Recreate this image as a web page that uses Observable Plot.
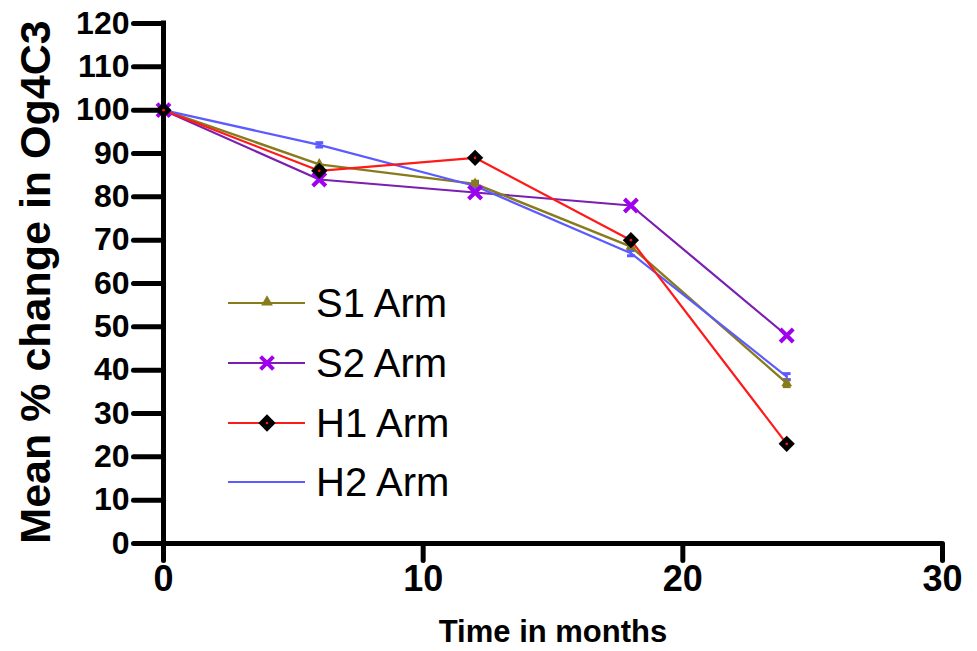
<!DOCTYPE html>
<html>
<head>
<meta charset="utf-8">
<script src="https://cdn.jsdelivr.net/npm/d3@7"></script>
<script src="https://cdn.jsdelivr.net/npm/@observablehq/plot@0.6"></script>
<style>
  html, body { margin: 0; padding: 0; background: white; }
  #chart { position: relative; width: 977px; height: 651px; }
  svg { font-family: "Liberation Sans", Arial, sans-serif; }
</style>
</head>
<body>
<div id="chart"></div>
<script>
// ---- data ----
const months = [0, 6, 12, 18, 24];
const seriesNames = ["S1 Arm", "S2 Arm", "H1 Arm", "H2 Arm"];
const s1Values = [100, 87.5, 83, 68.5, 37];
const s2Values = [100, 84, 81, 78, 48];
const h1Values = [100, 86, 89, 70, 23];
const h2Values = [100, 92, 82.5, 67, 38.5];
const s1Errors = [0, 0, 0.6, 0, 0.8];
const h2Errors = [0, 0.5, 0.6, 0.6, 0.7];
const xTicks = [0, 10, 20, 30];
const yTicks = [0, 10, 20, 30, 40, 50, 60, 70, 80, 90, 100, 110, 120];
const xLabel = "Time in months";
const yLabel = "Mean % change in Og4C3";

// ---- styles ----
const colors = {"S1 Arm": "#877b1c", "S2 Arm": "#7a1fb0", "H1 Arm": "#ff1a1a", "H2 Arm": "#5b5bff"};
const valuesBySeries = {"S1 Arm": s1Values, "S2 Arm": s2Values, "H1 Arm": h1Values, "H2 Arm": h2Values};
const rows = seriesNames.flatMap(s => months.map((m, i) => ({series: s, month: m, value: valuesBySeries[s][i]})));
const bySeries = s => rows.filter(d => d.series === s);
const errRows = (s, errs) => months.map((m, i) => ({month: m, value: valuesBySeries[s][i], err: errs[i]})).filter(d => d.err > 0);
const capW = 0.15;

// tick glyphs (thick axis ticks)
const yTickLen = 30, xTickLen = 17;
const leftTick = {draw(ctx) { ctx.moveTo(-yTickLen, 0); ctx.lineTo(0, 0); }};
const downTick = {draw(ctx) { ctx.moveTo(0, 0); ctx.lineTo(0, xTickLen); }};

const chart = Plot.plot({
  width: 977, height: 651,
  marginLeft: 163, marginRight: 35, marginTop: 23, marginBottom: 108,
  x: {domain: [0, 30]},
  y: {domain: [0, 120]},
  style: {background: "white", color: "black", fontFamily: "Liberation Sans, Arial, sans-serif"},
  marks: [
    Plot.axisY({ticks: yTicks, tickSize: 0, tickPadding: yTickLen + 4, fontSize: 32, fontWeight: "bold", label: null, tickFormat: d => String(d)}),
    Plot.axisX({ticks: xTicks, tickSize: 0, tickPadding: xTickLen + 5, fontSize: 36, fontWeight: "bold", label: null, tickFormat: d => String(d)}),
    Plot.dot(yTicks, {x: () => 0, y: d => d, symbol: leftTick, stroke: "black", strokeWidth: 5, fill: "none", strokeLinecap: "round"}),
    Plot.dot(xTicks, {x: d => d, y: () => 0, symbol: downTick, stroke: "black", strokeWidth: 5, fill: "none", strokeLinecap: "round"}),
    Plot.ruleX([0], {y1: 0, y2: 120, strokeWidth: 5, strokeLinecap: "square"}),
    Plot.ruleY([0], {x1: 0, x2: 30, strokeWidth: 5}),
    // error bars
    ...[["S1 Arm", s1Errors], ["H2 Arm", h2Errors]].flatMap(([s, errs]) => {
      const e = errRows(s, errs);
      return [
        Plot.link(e, {x1: "month", x2: "month", y1: d => d.value - d.err, y2: d => d.value + d.err, stroke: colors[s], strokeWidth: 2}),
        Plot.link(e, {x1: d => d.month - capW, x2: d => d.month + capW, y1: d => d.value - d.err, y2: d => d.value - d.err, stroke: colors[s], strokeWidth: 3}),
        Plot.link(e, {x1: d => d.month - capW, x2: d => d.month + capW, y1: d => d.value + d.err, y2: d => d.value + d.err, stroke: colors[s], strokeWidth: 3})
      ];
    }),
    Plot.line(bySeries("S2 Arm"), {x: "month", y: "value", stroke: colors["S2 Arm"], strokeWidth: 2.2}),
    Plot.line(bySeries("S1 Arm"), {x: "month", y: "value", stroke: colors["S1 Arm"], strokeWidth: 2.4}),
    Plot.line(bySeries("H2 Arm"), {x: "month", y: "value", stroke: colors["H2 Arm"], strokeWidth: 2.2}),
    Plot.line(bySeries("H1 Arm"), {x: "month", y: "value", stroke: colors["H1 Arm"], strokeWidth: 2.2}),
    Plot.dot(bySeries("S1 Arm"), {x: "month", y: "value", symbol: "triangle", fill: colors["S1 Arm"], r: 4}),
    Plot.dot(bySeries("S2 Arm"), {x: "month", y: "value", symbol: "times", stroke: "#a000f0", strokeWidth: 4, r: 6}),
    Plot.dot(bySeries("H1 Arm"), {x: "month", y: "value", symbol: "square", rotate: 45, fill: "black", r: 6.5}),
    Plot.dot(bySeries("H1 Arm"), {x: "month", y: "value", fill: "#ff1a1a", r: 1.3})
  ]
});
document.getElementById("chart").appendChild(chart);

// ---- axis titles & legend ----
const svg = d3.select(chart);
svg.append("text")
  .attr("transform", "translate(50,282) rotate(-90)")
  .attr("text-anchor", "middle")
  .attr("font-size", 43).attr("font-weight", "bold").attr("fill", "black")
  .text(yLabel);
svg.append("text")
  .attr("x", 553).attr("y", 642)
  .attr("text-anchor", "middle")
  .attr("font-size", 31).attr("font-weight", "bold").attr("fill", "black")
  .text(xLabel);

const legendY = [303, 363, 423, 482];
const lg = svg.append("g");
seriesNames.forEach((s, i) => {
  const y = legendY[i];
  lg.append("line").attr("x1", 228).attr("x2", 305).attr("y1", y).attr("y2", y)
    .attr("stroke", colors[s]).attr("stroke-width", 2.2);
  if (s === "S1 Arm") {
    lg.append("path").attr("d", d3.symbol(d3.symbolTriangle, 60)()).attr("transform", `translate(267,${y - 1})`).attr("fill", colors[s]);
  } else if (s === "S2 Arm") {
    lg.append("path").attr("d", d3.symbol(d3.symbolTimes, 110)()).attr("transform", `translate(267,${y})`)
      .attr("fill", "none").attr("stroke", "#a000f0").attr("stroke-width", 4);
  } else if (s === "H1 Arm") {
    lg.append("path").attr("d", d3.symbol(d3.symbolSquare, 150)()).attr("transform", `translate(267,${y}) rotate(45)`).attr("fill", "black");
    lg.append("circle").attr("cx", 267).attr("cy", y).attr("r", 1.3).attr("fill", "#ff1a1a");
  }
  lg.append("text").attr("x", 316).attr("y", y + 14)
    .attr("text-anchor", "start")
    .attr("font-size", 40).attr("fill", "black").text(s);
});
</script>
</body>
</html>
